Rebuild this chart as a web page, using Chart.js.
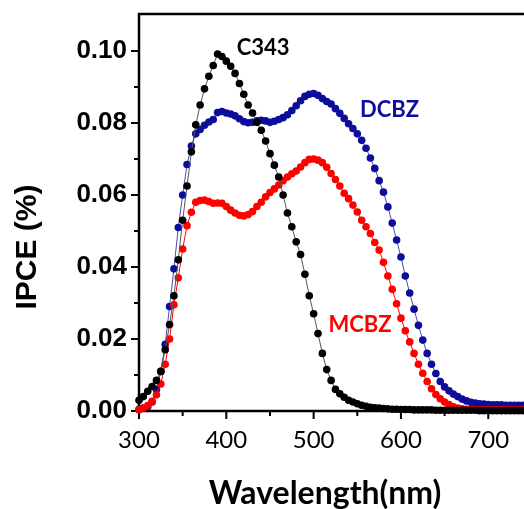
<!DOCTYPE html>
<html>
<head>
<meta charset="utf-8">
<script src="https://cdn.jsdelivr.net/npm/chart.js@4.4.1/dist/chart.umd.min.js"></script>
<style>
  html, body { margin: 0; padding: 0; background: #fff; overflow: hidden; }
  canvas { display: block; }
</style>
</head>
<body>
<canvas id="chart" width="527" height="509"></canvas>
<script>
const wavelengths = [
  300, 305, 310, 315, 320, 325, 330, 335, 340, 345,
  350, 355, 360, 365, 370, 375, 380, 385, 390, 395,
  400, 405, 410, 415, 420, 425, 430, 435, 440, 445,
  450, 455, 460, 465, 470, 475, 480, 485, 490, 495,
  500, 505, 510, 515, 520, 525, 530, 535, 540, 545,
  550, 555, 560, 565, 570, 575, 580, 585, 590, 595,
  600, 605, 610, 615, 620, 625, 630, 635, 640, 645,
  650, 655, 660, 665, 670, 675, 680, 685, 690, 695,
  700, 705, 710, 715, 720, 725, 730, 735, 740
];

const c343 = [
  0.0030, 0.0040, 0.0055, 0.0068, 0.0085, 0.0110, 0.0170, 0.0240, 0.0320, 0.0420,
  0.0530, 0.0625, 0.0720, 0.0795, 0.0850, 0.0895, 0.0930, 0.0960, 0.0992, 0.0985,
  0.0972, 0.0958, 0.0938, 0.0910, 0.0880, 0.0850, 0.0828, 0.0802, 0.0780, 0.0750,
  0.0715, 0.0683, 0.0650, 0.0600, 0.0550, 0.0512, 0.0470, 0.0435, 0.0380, 0.0320,
  0.0270, 0.0215, 0.0160, 0.0115, 0.0085, 0.0060, 0.0048, 0.0038, 0.0030, 0.0025,
  0.0020, 0.0016, 0.0013, 0.0010, 0.0009, 0.0008, 0.0007, 0.0006, 0.0005, 0.0005,
  0.0004, 0.0004, 0.0004, 0.0003, 0.0003, 0.0003, 0.0003, 0.0003, 0.0002, 0.0002,
  0.0002, 0.0002, 0.0002, 0.0002, 0.0002, 0.0002, 0.0002, 0.0002, 0.0001, 0.0001,
  0.0001, 0.0001, 0.0001, 0.0001, 0.0001, 0.0001, 0.0001, 0.0001, 0.0001
];

const dcbz = [
  0.0005, 0.0008, 0.0012, 0.0025, 0.0060, 0.0110, 0.0185, 0.0290, 0.0395, 0.0510,
  0.0600, 0.0685, 0.0736, 0.0770, 0.0782, 0.0794, 0.0803, 0.0810, 0.0829, 0.0832,
  0.0828, 0.0825, 0.0820, 0.0812, 0.0804, 0.0801, 0.0802, 0.0806, 0.0808, 0.0806,
  0.0802, 0.0805, 0.0810, 0.0815, 0.0823, 0.0835, 0.0848, 0.0862, 0.0874, 0.0880,
  0.0882, 0.0877, 0.0868, 0.0860, 0.0853, 0.0840, 0.0827, 0.0813, 0.0798, 0.0785,
  0.0770, 0.0752, 0.0730, 0.0703, 0.0674, 0.0640, 0.0608, 0.0567, 0.0522, 0.0475,
  0.0428, 0.0375, 0.0328, 0.0283, 0.0238, 0.0197, 0.0160, 0.0130, 0.0104, 0.0082,
  0.0067, 0.0056, 0.0047, 0.0040, 0.0033, 0.0028, 0.0024, 0.0022, 0.0020, 0.0019,
  0.0018, 0.0017, 0.0017, 0.0017, 0.0016, 0.0016, 0.0016, 0.0016, 0.0016
];

const mcbz = [
  0.0003, 0.0008, 0.0015, 0.0027, 0.0045, 0.0075, 0.0130, 0.0200, 0.0295, 0.0370,
  0.0450, 0.0515, 0.0552, 0.0580, 0.0585, 0.0586, 0.0582, 0.0577, 0.0578, 0.0577,
  0.0568, 0.0558, 0.0550, 0.0544, 0.0542, 0.0546, 0.0554, 0.0568, 0.0580, 0.0595,
  0.0607, 0.0617, 0.0628, 0.0640, 0.0650, 0.0659, 0.0667, 0.0678, 0.0690, 0.0699,
  0.0700, 0.0697, 0.0690, 0.0677, 0.0660, 0.0643, 0.0625, 0.0605, 0.0590, 0.0572,
  0.0553, 0.0530, 0.0512, 0.0493, 0.0468, 0.0447, 0.0413, 0.0375, 0.0338, 0.0298,
  0.0258, 0.0223, 0.0192, 0.0160, 0.0130, 0.0105, 0.0082, 0.0062, 0.0046, 0.0034,
  0.0025, 0.0018, 0.0012, 0.0008, 0.0006, 0.0005, 0.0004, 0.0004, 0.0003, 0.0003,
  0.0003, 0.0003, 0.0003, 0.0003, 0.0003, 0.0003, 0.0003, 0.0003, 0.0003
];

const xMajorTicks = [300, 400, 500, 600, 700];
const xMinorTicks = [350, 450, 550, 650];
const yMajorTicks = [0, 0.02, 0.04, 0.06, 0.08, 0.10];
const yMinorTicks = [0.01, 0.03, 0.05, 0.07, 0.09];

const BLUE = "#0d0d9c";
const RED = "#ff0000";

const toXY = vals => wavelengths.map((w, i) => ({ x: w, y: vals[i] }));

// frame + outward tick marks, labels on the curves, axis titles
const decorations = {
  id: "decorations",
  beforeDatasetsDraw(chart) {
    const { ctx, chartArea: a, scales: { x, y } } = chart;
    ctx.save();
    ctx.strokeStyle = "#000";
    ctx.lineWidth = 2.5;
    ctx.beginPath();
    ctx.moveTo(a.right + 5, a.top);
    ctx.lineTo(a.left, a.top);
    ctx.lineTo(a.left, a.bottom);
    ctx.lineTo(a.right + 5, a.bottom);
    ctx.stroke();

    ctx.lineWidth = 2;
    ctx.beginPath();
    yMajorTicks.forEach(v => { const p = y.getPixelForValue(v); ctx.moveTo(a.left - 8, p); ctx.lineTo(a.left, p); });
    yMinorTicks.forEach(v => { const p = y.getPixelForValue(v); ctx.moveTo(a.left - 5, p); ctx.lineTo(a.left, p); });
    xMajorTicks.forEach(v => { const p = x.getPixelForValue(v); ctx.moveTo(p, a.bottom); ctx.lineTo(p, a.bottom + 8); });
    xMinorTicks.forEach(v => { const p = x.getPixelForValue(v); ctx.moveTo(p, a.bottom); ctx.lineTo(p, a.bottom + 5); });
    ctx.stroke();
    ctx.restore();
  },
  afterDraw(chart) {
    const { ctx, scales: { x, y } } = chart;
    ctx.save();
    ctx.textBaseline = "middle";
    ctx.textAlign = "left";
    ctx.font = "bold 22px Lato";
    ctx.fillStyle = "#000";
    ctx.fillText("C343", x.getPixelForValue(412), y.getPixelForValue(0.101));
    ctx.fillStyle = BLUE;
    ctx.fillText("DCBZ", x.getPixelForValue(553), y.getPixelForValue(0.0836));
    ctx.fillStyle = RED;
    ctx.fillText("MCBZ", x.getPixelForValue(517), y.getPixelForValue(0.0239));

    ctx.fillStyle = "#000";
    ctx.textAlign = "center";
    ctx.font = "bold 32px Lato";
    ctx.fillText("Wavelength(nm)", 325, 494);

    ctx.translate(28, 247);
    ctx.rotate(-Math.PI / 2);
    ctx.font = "bold 30px 'Liberation Sans'";
    ctx.fillText("IPCE (%)", 0, 0);
    ctx.restore();
  }
};

const pointSet = (label, vals, color, lineColor) => ({
  label,
  data: toXY(vals),
  borderColor: lineColor,
  borderWidth: 1,
  backgroundColor: color,
  pointBackgroundColor: color,
  pointBorderWidth: 0,
  pointRadius: 3.8,
  pointHoverRadius: 3.8,
  tension: 0,
  clip: 6
});

new Chart(document.getElementById("chart"), {
  type: "line",
  data: {
    datasets: [
      pointSet("C343", c343, "#000", "#555"),
      pointSet("MCBZ", mcbz, RED, RED),
      pointSet("DCBZ", dcbz, BLUE, "#4a4ab0")
    ]
  },
  options: {
    responsive: false,
    animation: false,
    layout: { padding: { top: 14, right: 0, left: 0, bottom: 0 } },
    plugins: { legend: { display: false }, tooltip: { enabled: false } },
    scales: {
      x: {
        type: "linear",
        min: 300, max: 740,
        border: { display: false },
        grid: { display: false, drawTicks: false },
        afterFit: s => { s.height = 98; s.paddingLeft = 0; s.paddingRight = 0; },
        ticks: {
          stepSize: 100,
          includeBounds: false,
          autoSkip: false,
          maxRotation: 0,
          padding: 15,
          color: "#000",
          font: { family: "Lato", size: 24 },
          callback: v => String(v)
        }
      },
      y: {
        min: 0, max: 0.1103,
        border: { display: false },
        grid: { display: false, drawTicks: false },
        afterFit: s => { s.width = 139; s.paddingTop = 0; s.paddingBottom = 0; },
        ticks: {
          stepSize: 0.02,
          includeBounds: false,
          autoSkip: false,
          padding: 12,
          color: "#000",
          font: { family: "'Liberation Sans'", size: 26, weight: "bold" },
          callback: v => v.toFixed(2)
        }
      }
    }
  },
  plugins: [decorations]
});
</script>
</body>
</html>
